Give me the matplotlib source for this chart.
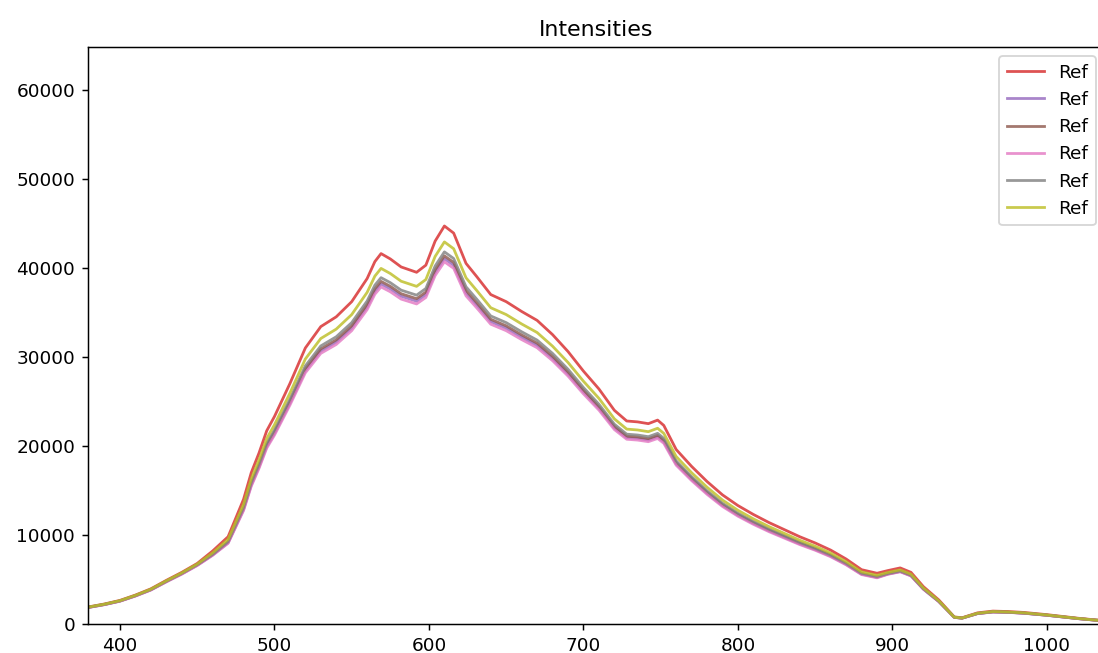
import matplotlib
matplotlib.use("Agg")
import matplotlib.pyplot as plt

# wavelength grid (nm)
wavelength = [379, 390, 400, 410, 420, 430, 440, 450, 460, 470,
              480, 485, 490, 495, 500, 510, 520, 530, 540, 550,
              560, 565, 569, 575, 582, 592, 598, 604, 610, 616,
              624, 631, 640, 650, 660, 670, 680, 690, 700, 710,
              720, 728, 735, 742, 748, 752, 760, 770, 780, 790,
              800, 810, 820, 830, 840, 850, 860, 870, 880, 890,
              897, 905, 912, 920, 930, 940, 945, 955, 965, 975,
              985, 1000, 1010, 1020, 1032, 1038]

ref_red = [1900, 2250, 2650, 3250, 3950, 4900, 5800, 6800, 8200, 9800,
           14000, 17000, 19200, 21700, 23300, 27000, 31000, 33400, 34500, 36200,
           38800, 40700, 41600, 41000, 40100, 39500, 40300, 43000, 44700, 43900,
           40500, 39000, 37000, 36200, 35100, 34100, 32500, 30600, 28400, 26400,
           24000, 22800, 22700, 22500, 22900, 22300, 19600, 17700, 16000, 14500,
           13300, 12300, 11400, 10600, 9800, 9100, 8300, 7300, 6100, 5700,
           6000, 6300, 5800, 4200, 2700, 800, 700, 1250, 1450, 1400,
           1300, 1050, 850, 650, 450, 380]

ref_purple = [1843, 2183, 2571, 3153, 3832, 4753, 5626, 6596, 7749, 9114,
              12852, 15606, 17626, 19921, 21389, 24786, 28458, 30661, 31671, 33232,
              35618, 37363, 38189, 37638, 36812, 36261, 36995, 39474, 41035, 40300,
              37179, 35802, 33966, 33232, 32222, 31304, 29835, 28091, 26071, 24235,
              22032, 20930, 20839, 20655, 21022, 20471, 17993, 16249, 14688, 13311,
              12209, 11291, 10465, 9731, 8996, 8354, 7619, 6701, 5600, 5233,
              5610, 5891, 5423, 3927, 2525, 748, 655, 1169, 1356, 1309,
              1216, 982, 795, 608, 421, 355]

ref_brown = [1853, 2194, 2584, 3169, 3851, 4778, 5655, 6630, 7790, 9192,
             12950, 15725, 17760, 20073, 21553, 24975, 28675, 30895, 31913, 33485,
             35890, 37648, 38480, 37925, 37093, 36538, 37278, 39775, 41348, 40608,
             37463, 36075, 34225, 33485, 32468, 31543, 30063, 28305, 26270, 24420,
             22200, 21090, 20998, 20813, 21183, 20628, 18130, 16373, 14800, 13413,
             12303, 11378, 10545, 9805, 9065, 8418, 7678, 6753, 5643, 5273,
             5640, 5922, 5452, 3948, 2538, 752, 658, 1175, 1363, 1316,
             1222, 987, 799, 611, 423, 357]

ref_pink = [1834, 2171, 2557, 3136, 3812, 4729, 5597, 6562, 7708, 9065,
            12740, 15470, 17472, 19747, 21203, 24570, 28210, 30394, 31395, 32942,
            35308, 37037, 37856, 37310, 36491, 35945, 36673, 39130, 40677, 39949,
            36855, 35490, 33670, 32942, 31941, 31031, 29575, 27846, 25844, 24024,
            21840, 20748, 20657, 20475, 20839, 20293, 17836, 16107, 14560, 13195,
            12103, 11193, 10374, 9646, 8918, 8281, 7553, 6643, 5551, 5187,
            5580, 5859, 5394, 3906, 2511, 744, 651, 1163, 1349, 1302,
            1209, 977, 791, 605, 419, 353]

ref_gray = [1862, 2205, 2597, 3185, 3871, 4802, 5684, 6664, 7831, 9261,
            13090, 15895, 17952, 20290, 21786, 25245, 28985, 31229, 32258, 33847,
            36278, 38055, 38896, 38335, 37494, 36933, 37681, 40205, 41795, 41047,
            37868, 36465, 34595, 33847, 32819, 31884, 30388, 28611, 26554, 24684,
            22440, 21318, 21225, 21038, 21412, 20851, 18326, 16550, 14960, 13558,
            12436, 11501, 10659, 9911, 9163, 8509, 7761, 6826, 5704, 5330,
            5670, 5954, 5481, 3969, 2552, 756, 662, 1181, 1370, 1323,
            1229, 992, 803, 614, 425, 359]

ref_olive = [1881, 2228, 2624, 3218, 3911, 4851, 5742, 6732, 7995, 9506,
             13440, 16320, 18432, 20832, 22368, 25920, 29760, 32064, 33120, 34752,
             37248, 39072, 39936, 39360, 38496, 37920, 38688, 41280, 42912, 42144,
             38880, 37440, 35520, 34752, 33696, 32736, 31200, 29376, 27264, 25344,
             23040, 21888, 21792, 21600, 21984, 21408, 18816, 16992, 15360, 13920,
             12768, 11808, 10944, 10176, 9408, 8736, 7968, 7008, 5856, 5472,
             5790, 6080, 5597, 4053, 2606, 772, 676, 1206, 1399, 1351,
             1255, 1013, 820, 627, 434, 367]

series = [ref_red, ref_purple, ref_brown, ref_pink, ref_gray, ref_olive]
colors = ["tab:red", "tab:purple", "tab:brown", "tab:pink", "tab:gray", "tab:olive"]
labels = ["Ref"] * 6

DPI = 133
fig = plt.figure(figsize=(1098 / DPI, 653 / DPI), dpi=DPI)
# axes run slightly past the right edge of the canvas
ax = fig.add_axes([0.0801, 0.0444, 0.9262, 0.8836])

for values, color, label in zip(series, colors, labels):
    ax.plot(wavelength, values, color=color, alpha=0.8, label=label)

ax.set_xlim(379.3, 1037.5)
ax.set_ylim(0, 64800)
ax.set_title("Intensities")
ax.legend(loc="upper right")

fig.savefig("out.png", dpi=DPI)
